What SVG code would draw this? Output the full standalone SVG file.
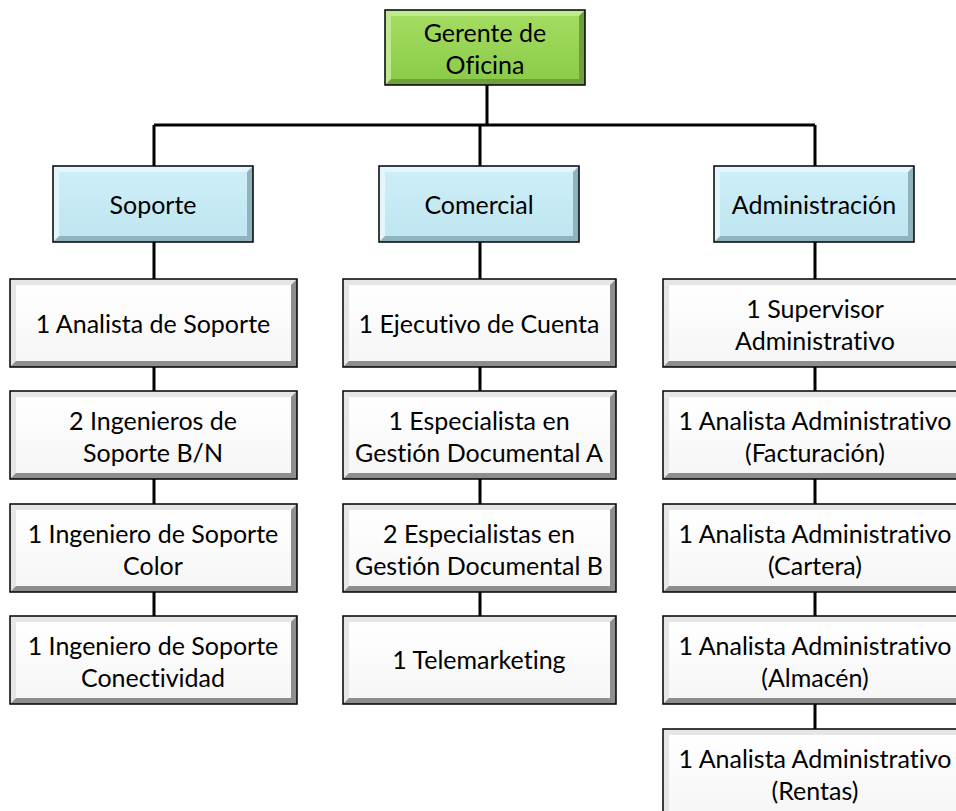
<svg xmlns="http://www.w3.org/2000/svg" xmlns:xlink="http://www.w3.org/1999/xlink" width="956" height="811" viewBox="0 0 956 811">
<style>
  text { font-family: Lato, "Liberation Sans", sans-serif; font-size: 25px; fill: #000; text-anchor: middle; font-variant-ligatures: none; font-feature-settings: "liga" 0; }
  .conn { stroke: #000; stroke-width: 3; fill: none; }
  .outline { fill: none; stroke: #000; stroke-width: 1.5; }
</style>
<defs>
  <linearGradient id="gGreen" x1="0" y1="0" x2="0" y2="1">
    <stop offset="0" stop-color="#a3dc60"/><stop offset="1" stop-color="#8ccb4a"/>
  </linearGradient>
  <linearGradient id="gBlue" x1="0" y1="0" x2="0" y2="1">
    <stop offset="0" stop-color="#cdeef7"/><stop offset="1" stop-color="#bfe6f1"/>
  </linearGradient>
  <linearGradient id="gWhite" x1="0" y1="0" x2="0" y2="1">
    <stop offset="0" stop-color="#ffffff"/><stop offset="1" stop-color="#f6f6f6"/>
  </linearGradient>
  <g id="boxTop">
    <rect x="0" y="0" width="200" height="75" fill="#6f9e3c"/>
    <path d="M0 0H200L194 6H6V69L0 75Z" fill="#bde98f"/>
    <rect x="6" y="6" width="188" height="63" fill="url(#gGreen)"/>
    <rect x="0" y="0" width="200" height="75" class="outline"/>
  </g>
  <g id="boxCat">
    <rect x="0" y="0" width="200" height="76" fill="#8fb4bf"/>
    <path d="M0 0H200L194 6H6V70L0 76Z" fill="#e2f6fb"/>
    <rect x="6" y="6" width="188" height="64" fill="url(#gBlue)"/>
    <rect x="0" y="0" width="200" height="76" class="outline"/>
  </g>
  <g id="boxS">
    <rect x="0" y="0" width="287" height="88" fill="#8e8e8e"/>
    <path d="M0 0H287L281 6H6V82L0 88Z" fill="#e6e6e6"/>
    <rect x="6" y="6" width="275" height="76" fill="url(#gWhite)"/>
    <rect x="0" y="0" width="287" height="88" class="outline"/>
  </g>
  <g id="boxC">
    <rect x="0" y="0" width="273" height="88" fill="#8e8e8e"/>
    <path d="M0 0H273L267 6H6V82L0 88Z" fill="#e6e6e6"/>
    <rect x="6" y="6" width="261" height="76" fill="url(#gWhite)"/>
    <rect x="0" y="0" width="273" height="88" class="outline"/>
  </g>
  <g id="boxA">
    <rect x="0" y="0" width="304" height="88" fill="#8e8e8e"/>
    <path d="M0 0H304L298 6H6V82L0 88Z" fill="#e6e6e6"/>
    <rect x="6" y="6" width="292" height="76" fill="url(#gWhite)"/>
    <rect x="0" y="0" width="304" height="88" class="outline"/>
  </g>
</defs>
<rect width="956" height="811" fill="#fff"/>
<g id="connectors">
  <path class="conn" d="M487 85V125M154 125H815M154 125V166M480 125V166M815 125V166"/>
  <path class="conn" d="M154 242V279M154 367V391M154 479V504M154 592V616"/>
  <path class="conn" d="M480 242V279M480 367V391M480 479V504M480 592V616"/>
  <path class="conn" d="M815 242V279M815 367V391M815 479V504M815 592V616M815 704V729"/>
</g>
<g id="n-gerente"><use xlink:href="#boxTop" x="385" y="10"/><text x="485" y="42">Gerente de</text><text x="485" y="74">Oficina</text></g>
<g id="n-soporte"><use xlink:href="#boxCat" x="53" y="166"/><text x="153" y="214">Soporte</text></g>
<g id="n-comercial"><use xlink:href="#boxCat" x="379" y="166"/><text x="479" y="214">Comercial</text></g>
<g id="n-admin"><use xlink:href="#boxCat" x="714" y="166"/><text x="814" y="214">Administración</text></g>

<g id="n-s1"><use xlink:href="#boxS" x="10" y="279"/><text x="153" y="333">1 Analista de Soporte</text></g>
<g id="n-s2"><use xlink:href="#boxS" x="10" y="391"/><text x="153" y="430">2 Ingenieros de</text><text x="153" y="462">Soporte B/N</text></g>
<g id="n-s3"><use xlink:href="#boxS" x="10" y="504"/><text x="153" y="543">1 Ingeniero de Soporte</text><text x="153" y="575">Color</text></g>
<g id="n-s4"><use xlink:href="#boxS" x="10" y="616"/><text x="153" y="655">1 Ingeniero de Soporte</text><text x="153" y="687">Conectividad</text></g>

<g id="n-c1"><use xlink:href="#boxC" x="343" y="279"/><text x="479" y="333">1 Ejecutivo de Cuenta</text></g>
<g id="n-c2"><use xlink:href="#boxC" x="343" y="391"/><text x="479" y="430">1 Especialista en</text><text x="479" y="462">Gestión Documental A</text></g>
<g id="n-c3"><use xlink:href="#boxC" x="343" y="504"/><text x="479" y="543">2 Especialistas en</text><text x="479" y="575">Gestión Documental B</text></g>
<g id="n-c4"><use xlink:href="#boxC" x="343" y="616"/><text x="479" y="669">1 Telemarketing</text></g>

<g id="n-a1"><use xlink:href="#boxA" x="663" y="279"/><text x="815" y="318">1 Supervisor</text><text x="815" y="350">Administrativo</text></g>
<g id="n-a2"><use xlink:href="#boxA" x="663" y="391"/><text x="815" y="430">1 Analista Administrativo</text><text x="815" y="462">(Facturación)</text></g>
<g id="n-a3"><use xlink:href="#boxA" x="663" y="504"/><text x="815" y="543">1 Analista Administrativo</text><text x="815" y="575">(Cartera)</text></g>
<g id="n-a4"><use xlink:href="#boxA" x="663" y="616"/><text x="815" y="655">1 Analista Administrativo</text><text x="815" y="687">(Almacén)</text></g>
<g id="n-a5"><use xlink:href="#boxA" x="663" y="729"/><text x="815" y="768">1 Analista Administrativo</text><text x="815" y="800">(Rentas)</text></g>
</svg>
